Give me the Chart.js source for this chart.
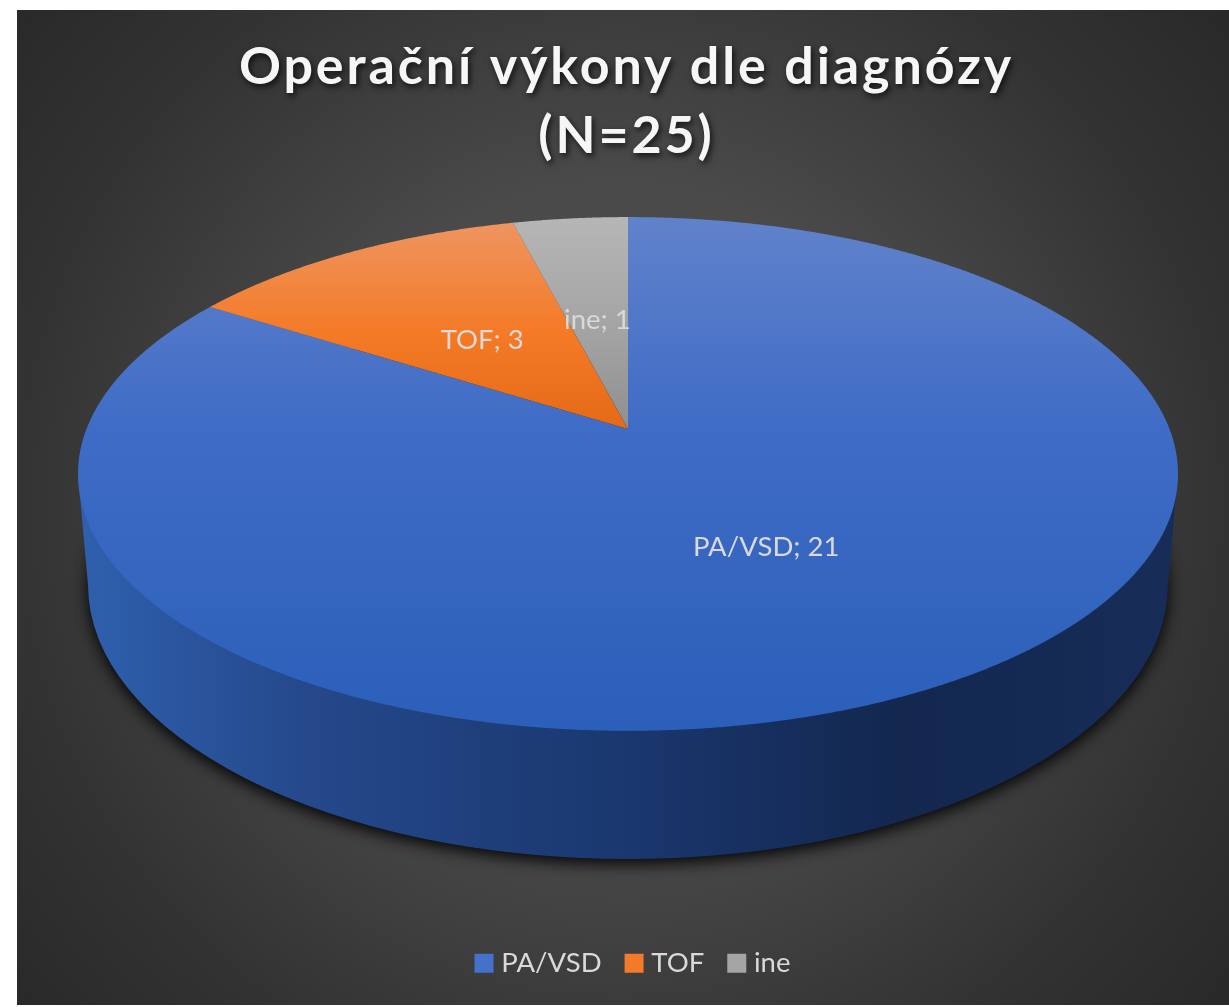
<!DOCTYPE html>
<html>
<head>
<meta charset="utf-8">
<title>Operační výkony dle diagnózy</title>
<style>
  html, body { margin: 0; padding: 0; background: #fff; overflow: hidden; }
  canvas { display: block; }
</style>
</head>
<body>
<canvas id="chart" width="1229" height="1007"></canvas>
<script src="https://cdn.jsdelivr.net/npm/chart.js@4"></script>
<script>
const titleLines = ['Operační výkony dle diagnózy', '(N=25)'];
const categories = ['PA/VSD', 'TOF', 'ine'];
const values = [21, 3, 1];
const legendColors = ['#4471c9', '#f37a2a', '#a5a5a5'];
// top to bottom shades of each slice
const faceShades = [
  ['#6182cb', '#3f6cc6', '#2b5fb9'],
  ['#ee9663', '#f47a26', '#e46a17'],
  ['#b6b6b6', '#a3a3a3', '#8f8f8f']
];

// the tilted disc: apex, radius, vertical radius and perspective strength
const CX = 628, CY = 429, R = 541.5, K = 249, P = 0.175;

function project(u, v) {
  const w = 1 - P * v;
  return { x: CX + R * u / w, y: CY + K * v / w };
}

const bgPlugin = {
  id: 'bg',
  beforeDraw(chart) {
    const ctx = chart.ctx;
    ctx.save();
    const g = ctx.createRadialGradient(620, 505, 0, 620, 505, 800);
    g.addColorStop(0, '#505050');
    g.addColorStop(0.4, '#4a4a4a');
    g.addColorStop(0.75, '#333333');
    g.addColorStop(1, '#282828');
    ctx.fillStyle = g;
    ctx.fillRect(17, 10, 1212, 995);
    ctx.restore();

    // title gets spacing and a shadow, legend text sits closer to its box
    if (chart.titleBlock && !chart.titleBlock._wrapped) {
      const drawTitle = chart.titleBlock.draw;
      chart.titleBlock._wrapped = true;
      chart.titleBlock.draw = function () {
        ctx.save();
        ctx.letterSpacing = '2.9px';
        ctx.shadowColor = 'rgba(0,0,0,0.75)';
        ctx.shadowBlur = 6;
        ctx.shadowOffsetX = 2;
        ctx.shadowOffsetY = 3;
        drawTitle.apply(this, arguments);
        ctx.restore();
      };
      const drawLegend = chart.legend.draw;
      chart.legend.draw = function () {
        const fillText = ctx.fillText;
        ctx.fillText = (t, x, y, m) => fillText.call(ctx, t, x - 6, y, m);
        ctx.save();
        ctx.translate(9, 0);
        drawLegend.apply(this, arguments);
        ctx.restore();
        delete ctx.fillText;
      };
    }
  }
};

const disc3d = {
  id: 'disc3d',
  beforeDatasetDraw(chart, args) {
    const ctx = chart.ctx;
    const arcs = chart.getDatasetMeta(args.index).data;

    // soft shadow under the wall
    ctx.save();
    ctx.shadowColor = 'rgba(0,0,0,0.95)';
    ctx.shadowBlur = 16;
    ctx.shadowOffsetY = 5;
    ctx.fillStyle = '#111';
    ctx.beginPath();
    ctx.ellipse(CX, 585, 540, 274, 0, 0, Math.PI * 2);
    ctx.fill();
    ctx.restore();

    // side wall
    const wall = ctx.createLinearGradient(80, 0, 1175, 0);
    wall.addColorStop(0, '#2f60ae');
    wall.addColorStop(0.2, '#25498c');
    wall.addColorStop(0.5, '#1a376e');
    wall.addColorStop(0.75, '#13274f');
    wall.addColorStop(1, '#172d57');
    ctx.fillStyle = wall;
    ctx.beginPath();
    ctx.moveTo(CX - 550, 474);
    ctx.lineTo(CX - 540, 585);
    ctx.ellipse(CX, 585, 540, 274, 0, Math.PI, 0, true);
    ctx.lineTo(CX + 550, 474);
    ctx.closePath();
    ctx.fill();

    // top face, one path per arc from the library's own angles
    arcs.forEach((arc, i) => {
      const g = ctx.createLinearGradient(0, 217, 0, i === 0 ? 731 : 429);
      g.addColorStop(0, faceShades[i][0]);
      g.addColorStop(i === 0 ? 0.41 : 0.55, faceShades[i][1]);
      g.addColorStop(1, faceShades[i][2]);
      ctx.fillStyle = g;
      ctx.beginPath();
      const c = project(0, 0);
      ctx.moveTo(c.x, c.y);
      for (let a = arc.startAngle; a < arc.endAngle; a += 0.004) {
        const p = project(Math.cos(a), Math.sin(a));
        ctx.lineTo(p.x, p.y);
      }
      const e = project(Math.cos(arc.endAngle), Math.sin(arc.endAngle));
      ctx.lineTo(e.x, e.y);
      ctx.closePath();
      ctx.fill();
    });

    // data labels
    ctx.save();
    ctx.font = '27.5px Lato';
    ctx.fillStyle = '#d9d9d9';
    ctx.textAlign = 'center';
    ctx.textBaseline = 'middle';
    arcs.forEach((arc, i) => {
      const mid = (arc.startAngle + arc.endAngle) / 2;
      const p = project(0.49 * Math.cos(mid), 0.49 * Math.sin(mid));
      ctx.fillText(categories[i] + '; ' + values[i], p.x, p.y + 3);
    });
    ctx.restore();

    return false;
  }
};

new Chart(document.getElementById('chart'), {
  type: 'pie',
  data: {
    labels: categories,
    datasets: [{ data: values, backgroundColor: legendColors, borderWidth: 0 }]
  },
  plugins: [bgPlugin, disc3d],
  options: {
    responsive: false,
    animation: false,
    layout: { padding: { left: 24, right: 0, top: 0, bottom: 20 } },
    plugins: {
      tooltip: { enabled: false },
      title: {
        display: true,
        text: titleLines,
        color: '#f6f6f6',
        font: { family: 'Lato', size: 52, weight: 'bold', lineHeight: 1.34 },
        padding: { top: 32, bottom: 10 }
      },
      legend: {
        position: 'bottom',
        labels: {
          color: '#d9d9d9',
          boxWidth: 19,
          boxHeight: 19,
          padding: 17,
          font: { family: 'Lato', size: 27.5 }
        }
      }
    }
  }
});
</script>
</body>
</html>
